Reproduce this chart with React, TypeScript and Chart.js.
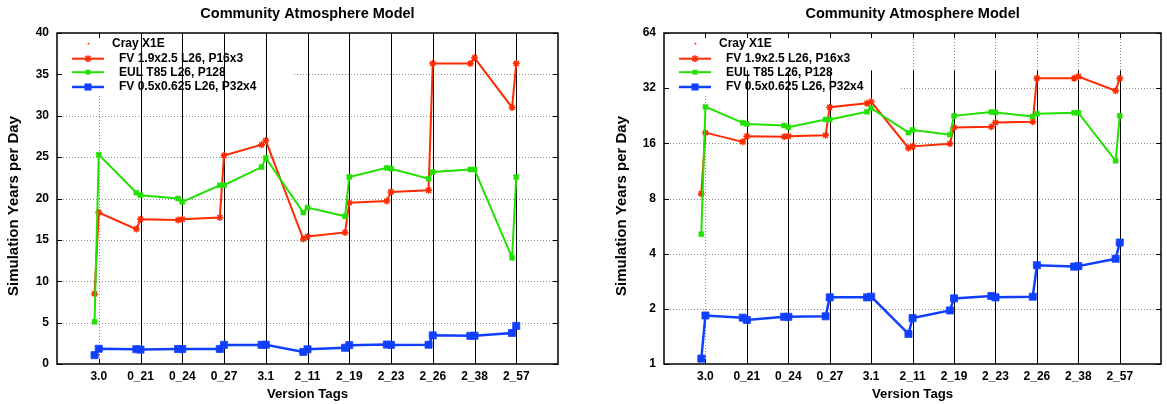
import React, { useEffect, useRef } from 'react';
import { Chart, registerables } from 'chart.js';

Chart.register(...registerables);

// ---------- data ----------
const tags = ['3.0', '0_21', '0_24', '0_27', '3.1', '2_11', '2_19', '2_23', '2_26', '2_38', '2_57'];
const tagOffset = 0.1; // the "before" measurement sits just left of each tag

const crayX1E = [1.1]; // single marker at the first tag

const fv19Before = [8.5, 16.3, 17.4, 17.7, 26.5, 15.1, 15.9, 19.7, 21.0, 36.3, 31.0];
const fv19After = [18.3, 17.5, 17.5, 25.2, 27.0, 15.4, 19.5, 20.8, 36.3, 37.0, 36.3];

const eulBefore = [5.1, 20.7, 20.0, 21.6, 23.8, 18.3, 17.85, 23.7, 22.4, 23.5, 12.85];
const eulAfter = [25.3, 20.4, 19.6, 21.6, 24.9, 18.9, 22.6, 23.6, 23.2, 23.5, 22.6];

const fv05Before = [1.07, 1.79, 1.81, 1.82, 2.31, 1.46, 1.96, 2.35, 2.33, 3.4, 3.75];
const fv05After = [1.84, 1.74, 1.81, 2.31, 2.33, 1.78, 2.28, 2.31, 3.46, 3.42, 4.6];

const linearTicks = [0, 5, 10, 15, 20, 25, 30, 35, 40];
const logTicks = [1, 2, 4, 8, 16, 32, 64];

const arrowBottom = 0;
const arrowTop = 40;
const arrowFromIndex = 1; // vertical markers from the 2nd tag on

const titleText = 'Community Atmosphere Model';
const yTitle = 'Simulation Years per Day';
const xTitle = 'Version Tags';

const RED = '#ff2a00';
const GREEN = '#22e000';
const BLUE = '#1040ff';
const FONT = "'Liberation Sans', Arial, Helvetica, sans-serif";

function buildPoints(before: number[], after: number[]) {
  const pts: { x: number; y: number }[] = [];
  before.forEach((b, i) => {
    pts.push({ x: i + 1 - tagOffset, y: b });
    pts.push({ x: i + 1, y: after[i] });
  });
  return pts;
}

function drawMarker(ctx: CanvasRenderingContext2D, style: string, x: number, y: number, r: number, color: string) {
  ctx.save();
  ctx.fillStyle = color;
  ctx.strokeStyle = color;
  if (style === 'rect') {
    const s = r * Math.SQRT2;
    ctx.fillRect(x - s / 2, y - s / 2, s, s);
  } else if (style === 'star') {
    ctx.lineWidth = 1.5;
    ctx.beginPath();
    ctx.moveTo(x - r, y); ctx.lineTo(x + r, y);
    ctx.moveTo(x, y - r); ctx.lineTo(x, y + r);
    const d = r * 0.75;
    ctx.moveTo(x - d, y - d); ctx.lineTo(x + d, y + d);
    ctx.moveTo(x - d, y + d); ctx.lineTo(x + d, y - d);
    ctx.stroke();
  } else {
    ctx.beginPath();
    ctx.arc(x, y, r, 0, Math.PI * 2);
    ctx.fill();
  }
  ctx.restore();
}

const gnuPlugin = {
  id: 'gnu',
  beforeDatasetsDraw(chart: any) {
    const o = chart.options.plugins.gnu;
    const { ctx, chartArea: ca, scales } = chart;
    const xs = scales.x;
    const ys = scales.y;
    ctx.save();
    // dotted grid
    ctx.lineWidth = 1;
    ctx.strokeStyle = '#8c8c8c';
    ctx.setLineDash([1, 2]);
    ys.ticks.forEach((t: any) => {
      if (t.value <= ys.min || t.value >= ys.max) return;
      const py = Math.round(ys.getPixelForValue(t.value)) + 0.5;
      ctx.beginPath();
      ctx.moveTo(ca.left, py);
      ctx.lineTo(ca.right, py);
      ctx.stroke();
    });
    tags.forEach((_, i) => {
      const px = Math.round(xs.getPixelForValue(i + 1)) + 0.5;
      ctx.beginPath();
      ctx.moveTo(px, ca.top);
      ctx.lineTo(px, ca.bottom);
      ctx.stroke();
    });
    ctx.setLineDash([]);

    // opaque key box
    ctx.fillStyle = '#ffffff';
    ctx.fillRect(ca.left + 1, ca.top + 1, o.legendWidth, o.legendHeight);

    // key entries
    ctx.font = `bold 12px ${FONT}`;
    ctx.textBaseline = 'middle';
    ctx.textAlign = 'left';
    const entries = o.entries as any[];
    entries.forEach((e, i) => {
      const ly = ca.top + o.legendRows[i];
      if (e.dotOnly) {
        drawMarker(ctx, 'circle', ca.left + 31.5, ly, 0.9, e.color);
        ctx.fillStyle = '#000';
        ctx.fillText(e.label, ca.left + 55, ly);
      } else {
        ctx.strokeStyle = e.color;
        ctx.lineWidth = e.lineWidth;
        ctx.beginPath();
        ctx.moveTo(ca.left + 15, ly);
        ctx.lineTo(ca.left + 47, ly);
        ctx.stroke();
        drawMarker(ctx, e.pointStyle, ca.left + 31, ly, e.radius, e.color);
        ctx.fillStyle = '#000';
        ctx.fillText(e.label, ca.left + 62, ly);
      }
    });

    // solid vertical markers
    ctx.strokeStyle = '#000';
    ctx.lineWidth = 1;
    for (let i = arrowFromIndex; i < tags.length; i++) {
      const px = Math.round(xs.getPixelForValue(i + 1)) + 0.5;
      const y0 = ys.getPixelForValue(Math.max(arrowBottom, ys.min));
      const y1 = ys.getPixelForValue(Math.min(arrowTop, ys.max));
      ctx.beginPath();
      ctx.moveTo(px, y0);
      ctx.lineTo(px, y1);
      ctx.stroke();
    }
    ctx.restore();
  },
  afterDatasetsDraw(chart: any) {
    const { ctx, chartArea: ca, scales } = chart;
    const xs = scales.x;
    const ys = scales.y;
    ctx.save();
    ctx.strokeStyle = '#000';
    ctx.lineWidth = 1;
    const tl = 5;
    ys.ticks.forEach((t: any) => {
      const py = Math.round(ys.getPixelForValue(t.value)) + 0.5;
      ctx.beginPath();
      ctx.moveTo(ca.left, py); ctx.lineTo(ca.left + tl, py);
      ctx.moveTo(ca.right, py); ctx.lineTo(ca.right - tl, py);
      ctx.stroke();
    });
    tags.forEach((_, i) => {
      const px = Math.round(xs.getPixelForValue(i + 1)) + 0.5;
      ctx.beginPath();
      ctx.moveTo(px, ca.bottom); ctx.lineTo(px, ca.bottom - tl);
      ctx.moveTo(px, ca.top); ctx.lineTo(px, ca.top + tl);
      ctx.stroke();
    });
    ctx.lineWidth = 1.5;
    ctx.strokeRect(Math.round(ca.left), Math.round(ca.top), Math.round(ca.right - ca.left), Math.round(ca.bottom - ca.top));
    ctx.restore();
  },
  afterDraw(chart: any) {
    const o = chart.options.plugins.gnu;
    const { ctx } = chart;
    ctx.save();
    ctx.translate(o.yTitleX, o.yTitleY);
    ctx.rotate(-Math.PI / 2);
    ctx.font = `bold 15px ${FONT}`;
    ctx.fillStyle = '#000';
    ctx.textAlign = 'center';
    ctx.textBaseline = 'middle';
    ctx.fillText(yTitle, 0, 0);
    ctx.restore();
  },
};

function makeConfig(logScale: boolean, yAxisWidth: number, yTitleX: number, rightPad: number): any {
  const datasets = [
    {
      label: 'Cray X1E',
      data: crayX1E.map((v, i) => ({ x: i + 1, y: v })),
      showLine: false,
      pointStyle: 'circle',
      pointRadius: 1,
      backgroundColor: RED,
      borderColor: RED,
      borderWidth: 0,
      order: 3,
    },
    {
      label: 'FV 1.9x2.5 L26, P16x3',
      data: buildPoints(fv19Before, fv19After),
      borderColor: RED,
      backgroundColor: RED,
      borderWidth: 2,
      pointStyle: 'star',
      pointRadius: 3.5,
      pointBorderWidth: 1.5,
      pointBorderColor: RED,
      order: 2,
    },
    {
      label: 'EUL T85 L26, P128',
      data: buildPoints(eulBefore, eulAfter),
      borderColor: GREEN,
      backgroundColor: GREEN,
      borderWidth: 2,
      pointStyle: 'rect',
      pointRadius: 3.5,
      pointBorderWidth: 0.5,
      order: 1,
    },
    {
      label: 'FV 0.5x0.625 L26, P32x4',
      data: buildPoints(fv05Before, fv05After),
      borderColor: BLUE,
      backgroundColor: BLUE,
      borderWidth: 2.5,
      pointStyle: 'rect',
      pointRadius: 5,
      pointBorderWidth: 0.8,
      order: 0,
    },
  ];
  const entries = [
    { label: datasets[0].label, color: RED, dotOnly: true },
    { label: datasets[1].label, color: RED, pointStyle: 'star', radius: 3.5, lineWidth: 2 },
    { label: datasets[2].label, color: GREEN, pointStyle: 'rect', radius: 3.5, lineWidth: 2 },
    { label: datasets[3].label, color: BLUE, pointStyle: 'rect', radius: 5, lineWidth: 2.5 },
  ];
  const tickFont = { family: FONT, size: 12, weight: 'bold' as const };
  const titleFont = { family: FONT, size: 13.2, weight: 'bold' as const, lineHeight: 1.2 };
  const yScale: any = logScale
    ? {
        type: 'logarithmic',
        min: 1,
        max: 64,
        afterBuildTicks: (s: any) => {
          s.ticks = logTicks.map((v) => ({ value: v }));
        },
      }
    : {
        type: 'linear',
        min: 0,
        max: 40,
        afterBuildTicks: (s: any) => {
          s.ticks = linearTicks.map((v) => ({ value: v }));
        },
      };
  Object.assign(yScale, {
    grid: { display: false, drawTicks: false },
    border: { display: false },
    ticks: {
      color: '#000',
      font: tickFont,
      padding: 8,
      autoSkip: false,
      callback: (v: any) => String(v),
    },
    title: { display: false },
    afterFit: (s: any) => {
      s.width = yAxisWidth;
    },
  });
  return {
    type: 'line',
    data: { datasets },
    plugins: [gnuPlugin],
    options: {
      responsive: false,
      animation: false,
      devicePixelRatio: 1,
      layout: { padding: { left: 0, right: rightPad, top: 0, bottom: 0 } },
      scales: {
        x: {
          type: 'linear',
          min: 0,
          max: tags.length + 1,
          afterBuildTicks: (s: any) => {
            const t = [];
            for (let i = 0; i <= tags.length + 1; i++) t.push({ value: i });
            s.ticks = t;
          },
          grid: { display: false, drawTicks: false },
          border: { display: false },
          ticks: {
            color: '#000',
            font: tickFont,
            padding: 5,
            autoSkip: false,
            maxRotation: 0,
            callback: (v: any) => {
              const i = Math.round(Number(v)) - 1;
              return i >= 0 && i < tags.length ? tags[i] : '';
            },
          },
          title: { display: true, text: xTitle, color: '#000', font: titleFont, padding: { top: 0, bottom: 2 } },
          afterFit: (s: any) => {
            s.height = 40;
          },
        },
        y: yScale,
      },
      plugins: {
        legend: { display: false },
        tooltip: { enabled: false },
        title: {
          display: true,
          text: titleText,
          color: '#000',
          fullSize: false,
          font: { family: FONT, size: 14.5, weight: 'bold', lineHeight: 1.2 },
          padding: { top: 5.5, bottom: 10.1 },
        },
        gnu: {
          legendWidth: 234,
          legendHeight: 61,
          legendRows: [10.7, 25.7, 39.2, 54],
          entries,
          yTitleX,
          yTitleY: 206,
        },
      },
    },
  };
}

function ChartPanel({ width, logScale, yAxisWidth, yTitleX, rightPad }: any) {
  const ref = useRef<HTMLCanvasElement | null>(null);
  useEffect(() => {
    if (!ref.current) return;
    const chart = new Chart(ref.current, makeConfig(logScale, yAxisWidth, yTitleX, rightPad));
    return () => chart.destroy();
  }, [logScale, yAxisWidth, yTitleX, rightPad]);
  return <canvas ref={ref} width={width} height={404} style={{ display: 'block', width, height: 404 }} />;
}

export default function App() {
  return (
    <div
      style={{
        position: 'fixed',
        left: 0,
        top: 0,
        width: 1167,
        height: 404,
        background: '#fff',
        display: 'flex',
        flexDirection: 'row',
      }}
    >
      <ChartPanel width={583} logScale={false} yAxisWidth={57} yTitleX={14} rightPad={25} />
      <ChartPanel width={584} logScale={true} yAxisWidth={81} yTitleX={38.5} rightPad={1} />
    </div>
  );
}
